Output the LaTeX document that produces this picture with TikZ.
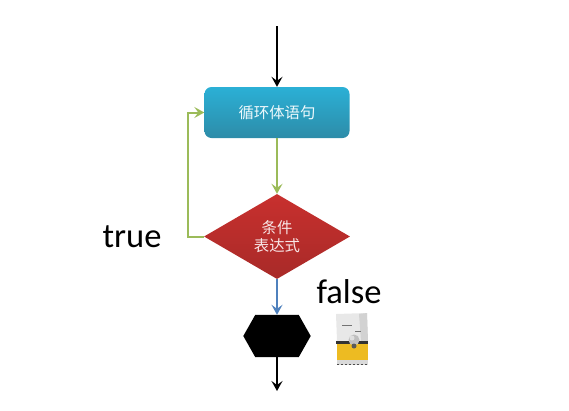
\documentclass[tikz,border=0pt]{standalone}
\usepackage{fontspec}
\setmainfont{Carlito}
\newfontfamily\cjk{Noto Sans CJK SC}
\usetikzlibrary{shapes.geometric,arrows.meta}
\definecolor{arrowgreen}{HTML}{9BBB59}
\definecolor{arrowblue}{HTML}{4F81BD}
\definecolor{boxtop}{HTML}{2BB0D6}
\definecolor{boxbot}{HTML}{2D8CA8}
\definecolor{diatop}{HTML}{C8302E}
\definecolor{diabot}{HTML}{A82A28}
\definecolor{iconyellow}{HTML}{EDBB22}
\tikzset{
  flowtip/.style={-{Stealth[length=10pt,width=11pt,inset=4pt]}},
  blackflow/.style={flowtip,draw=black,line width=2pt},
  greenflow/.style={flowtip,draw=arrowgreen,line width=2pt},
  blueflow/.style={flowtip,draw=arrowblue,line width=2pt},
  loopbox/.style={rectangle,rounded corners=7pt,minimum width=145pt,minimum height=51pt,inner sep=0pt,
    top color=boxtop,bottom color=boxbot,text=white!92!boxtop,font=\cjk\fontsize{15.4}{17}\selectfont},
  condbox/.style={diamond,minimum width=146pt,minimum height=85pt,inner sep=0pt,aspect=1.72,
    top color=diatop,bottom color=diabot,text=white!88!diatop,align=center,font=\cjk\fontsize{15.4}{18.5}\selectfont},
  hexframe/.style={rectangle,minimum width=67pt,minimum height=42pt,inner sep=0pt},
  biglabel/.style={font=\fontsize{34.5}{38}\selectfont,text=black,inner sep=0pt},
}
\begin{document}
\begin{tikzpicture}[x=1pt,y=-1pt]
\useasboundingbox (0,0) rectangle (569,410);
\coordinate (start) at (277,26);
\coordinate (finish) at (277,391);
\coordinate (loopbottom) at (188,236.5);
\coordinate (looptop) at (188,112.5);
\node[loopbox] (body) at (277,112.5) {循环体语句};
\node[condbox] (cond) at (277,236.5) {条件\\表达式};
\node[hexframe] (hex) at (277,336) {};
\fill[black] ([xshift=12pt]hex.north west) -- ([xshift=-12pt]hex.north east) -- (hex.east)
  -- ([xshift=-12pt]hex.south east) -- ([xshift=12pt]hex.south west) -- (hex.west) -- cycle;
\node[biglabel] (truelab) at (132,237) {true};
\node[biglabel] (falselab) at (349,292) {false};
% connectors
\draw[blackflow] (start) -- (body.north);
\draw[greenflow] (body.south) -- (cond.north);
\draw[blueflow] (cond.south) -- (hex.north);
\draw[blackflow] (hex.south) -- (finish);
\draw[greenflow] (cond.west) -- (loopbottom) -- (looptop) -- (body.west);
% product-box icon
\fill[gray!18] (336,314) -- (367,313) -- (368,341) -- (337,341) -- cycle;
\fill[gray!35] (359,314) -- (367,313) -- (368,341) -- (361,341) -- cycle;
\fill[black!80] (336,341) rectangle (368,344);
\fill[iconyellow] (337,344) rectangle (368,360);
\fill[gray!30] (337,360) rectangle (368,365);
\draw[black!70,line width=1pt,dash pattern=on 2pt off 2pt] (337,364) -- (368,364);
\draw[black!55,line width=.8pt] (342,325) -- (352,325) (355,331) -- (361,331);
\fill[gray!50] (354,340) circle (5.5);
\fill[black!65] (354,346) circle (2.5);
\fill[white!75!gray] (352,338) circle (2.5);
\end{tikzpicture}
\end{document}
